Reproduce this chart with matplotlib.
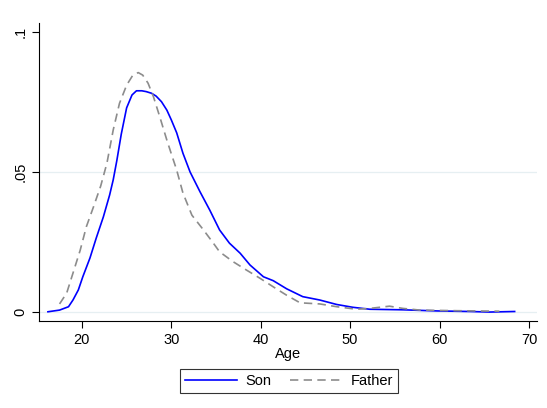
import numpy as np
import matplotlib.pyplot as plt

plt.rcParams['font.family'] = ['Liberation Sans', 'DejaVu Sans']

# kernel density estimates
son_age = [16.2, 17.5, 18.5, 19.0, 19.6, 20.1, 20.9, 21.6, 22.4, 23.1, 23.5, 23.9, 24.4,
           25.0, 25.6, 26.1, 26.7, 27.2, 27.8, 28.3, 28.9, 29.5, 30.0, 30.6, 31.3, 32.1,
           33.2, 34.3, 35.4, 36.5, 37.7, 38.8, 40.3, 41.4, 42.9, 44.7, 46.6, 48.5,
           50.3, 52.2, 55.9, 59.7, 63.4, 65.6, 68.4]
son_dens = [0.0001, 0.0007, 0.0019, 0.0043, 0.0079, 0.0126, 0.0193, 0.0264, 0.034, 0.0418,
            0.0472, 0.0540, 0.0635, 0.0729, 0.0775, 0.079, 0.079, 0.0787, 0.0781, 0.0771,
            0.0751, 0.0721, 0.0686, 0.064, 0.0567, 0.0500, 0.0430, 0.0364, 0.0293, 0.0246,
            0.021, 0.0168, 0.0126, 0.0112, 0.0083, 0.0055, 0.0043, 0.0027, 0.0017, 0.001,
            0.0008, 0.0004, 0.0002, 0.0, 0.0002]

father_age = [17.5, 18.3, 19.0, 19.8, 20.5, 21.3, 22.1, 22.8, 23.5, 24.2, 25.0, 25.7, 26.3,
              26.8, 27.4, 28.0, 28.7, 29.5, 30.0, 30.6, 31.3, 32.3, 33.6, 34.7, 35.4, 36.9,
              38.4, 39.9, 41.6, 42.9, 44.4, 46.6, 48.5, 50.7, 52.2, 54.4, 55.9, 57.8, 61.5,
              66.7]
father_dens = [0.0029, 0.0068, 0.0139, 0.022, 0.0305, 0.0376, 0.045, 0.0532, 0.065, 0.0745,
               0.081, 0.0846, 0.0855, 0.0846, 0.0817, 0.0769, 0.0698, 0.0614, 0.0565, 0.0507,
               0.0425, 0.0346, 0.0293, 0.0246, 0.0215, 0.018, 0.015, 0.0121, 0.0086, 0.006,
               0.0033, 0.0029, 0.0019, 0.001, 0.0013, 0.0021, 0.0013, 0.0007, 0.0005, 0.0003]

xticks = [20, 30, 40, 50, 60, 70]
yticks = [0, 0.05, 0.1]
yticklabels = ['0', '.05', '.1']

fig = plt.figure(figsize=(5.47, 4.08), dpi=100)
ax = fig.add_axes([0.0713, 0.2132, 0.9104, 0.7304])

for y in yticks[:2]:
    ax.axhline(y, color='#e6eff2', lw=0.9, zorder=0)

ax.plot(son_age, son_dens, color='#0000ff', lw=1.2, label='Son')
ax.plot(father_age, father_dens, color='#8c8c8c', lw=1.2, dashes=(5, 3.2), label='Father')

ax.set_xlim(15.2, 70.9)
ax.set_ylim(-0.0032, 0.1032)
ax.set_xticks(xticks)
ax.set_yticks(yticks)
ax.set_yticklabels(yticklabels, rotation=90, va='center')
ax.tick_params(labelsize=10.5, length=5, width=0.8)
ax.spines['top'].set_visible(False)
ax.spines['right'].set_visible(False)
ax.set_xlabel('Age', fontsize=10.5, labelpad=0)

leg = fig.legend(loc='center', bbox_to_anchor=(0.528, 0.0665), ncol=2, frameon=True,
                 fancybox=False, edgecolor='black', fontsize=10.5, handlelength=3.6,
                 handletextpad=0.55, columnspacing=1.3, borderpad=0.35, borderaxespad=0)
leg.get_frame().set_linewidth(0.8)

fig.savefig('out.png', dpi=100)
